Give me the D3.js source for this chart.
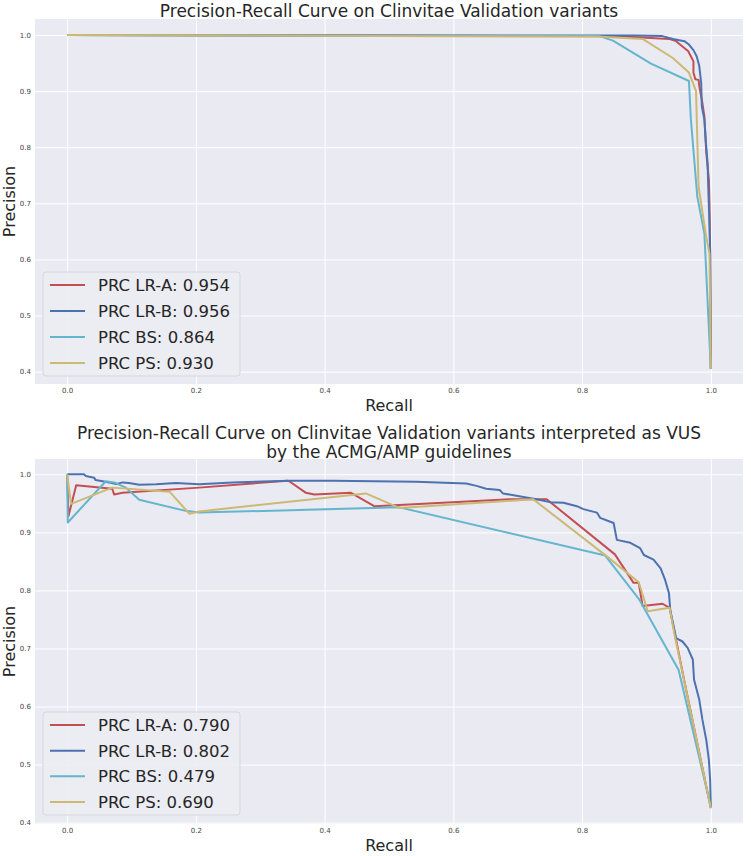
<!DOCTYPE html>
<html>
<head>
<meta charset="utf-8">
<script src="https://cdn.jsdelivr.net/npm/d3@7"></script>
<style>
  html, body { margin: 0; padding: 0; background: #ffffff; }
  svg { display: block; font-family: "DejaVu Sans", sans-serif; }
</style>
</head>
<body>
<svg id="chart" width="751" height="856"></svg>
<script>
// ---------------- DATA ----------------
const seriesNames = ["PRC LR-A", "PRC LR-B", "PRC BS", "PRC PS"];
const topScores = ["0.954", "0.956", "0.864", "0.930"];
const bottomScores = ["0.790", "0.802", "0.479", "0.690"];
const xTicks = [0.0, 0.2, 0.4, 0.6, 0.8, 1.0];
const yTicks = [0.4, 0.5, 0.6, 0.7, 0.8, 0.9, 1.0];
const topTitle = ["Precision-Recall Curve on Clinvitae Validation variants"];
const bottomTitle = ["Precision-Recall Curve on Clinvitae Validation variants interpreted as VUS", "by the ACMG/AMP guidelines"];

// Top panel: [recall, precision]
const topLRA = [[0,1.0],[0.85,0.998],[0.935,0.993],[0.946,0.989],[0.965,0.971],[0.973,0.953],[0.973,0.933],[0.976,0.921],[0.981,0.920],[0.982,0.909],[0.986,0.885],[0.990,0.855],[0.993,0.79],[0.997,0.742],[0.998,0.694],[0.999,0.61],[1.0,0.405]];
const topLRB = [[0,1.0],[0.88,0.999],[0.925,0.998],[0.941,0.993],[0.959,0.989],[0.966,0.983],[0.973,0.973],[0.978,0.962],[0.982,0.945],[0.985,0.915],[0.986,0.873],[0.990,0.849],[0.992,0.813],[0.995,0.771],[0.996,0.73],[0.998,0.658],[0.999,0.61],[1.0,0.405]];
const topBS = [[0,1.0],[0.827,0.998],[0.848,0.990],[0.907,0.949],[0.966,0.918],[0.969,0.85],[0.979,0.712],[0.990,0.646],[1.0,0.405]];
const topPS = [[0,1.0],[0.83,0.997],[0.894,0.993],[0.941,0.959],[0.966,0.933],[0.977,0.90],[0.981,0.73],[0.992,0.646],[0.998,0.61],[1.0,0.405]];

// Bottom panel: [recall, precision]
const botLRA = [[0,1.0],[0.002,0.928],[0.014,0.981],[0.070,0.975],[0.073,0.965],[0.086,0.968],[0.205,0.977],[0.342,0.989],[0.345,0.988],[0.371,0.968],[0.384,0.965],[0.441,0.968],[0.477,0.945],[0.516,0.947],[0.688,0.957],[0.745,0.957],[0.851,0.862],[0.880,0.813],[0.888,0.813],[0.894,0.773],[0.925,0.777],[0.936,0.770],[0.946,0.715],[0.959,0.643],[1.0,0.425]];
const botLRB = [[0,1.0],[0.026,1.0],[0.029,0.997],[0.042,0.994],[0.044,0.99],[0.055,0.988],[0.065,0.986],[0.076,0.983],[0.086,0.986],[0.096,0.985],[0.112,0.982],[0.138,0.983],[0.169,0.985],[0.205,0.983],[0.257,0.986],[0.345,0.989],[0.412,0.989],[0.542,0.987],[0.620,0.984],[0.636,0.980],[0.651,0.975],[0.672,0.973],[0.677,0.967],[0.709,0.961],[0.729,0.957],[0.750,0.952],[0.771,0.951],[0.792,0.945],[0.802,0.940],[0.823,0.934],[0.828,0.925],[0.849,0.916],[0.854,0.887],[0.875,0.882],[0.890,0.873],[0.896,0.861],[0.911,0.853],[0.922,0.838],[0.929,0.818],[0.935,0.795],[0.937,0.766],[0.946,0.718],[0.956,0.712],[0.964,0.701],[0.972,0.681],[0.974,0.646],[0.982,0.612],[0.987,0.577],[0.993,0.542],[0.997,0.508],[0.999,0.473],[1.0,0.427]];
const botBS = [[0,1.0],[0.001,0.917],[0.060,0.988],[0.073,0.986],[0.091,0.977],[0.112,0.956],[0.184,0.937],[0.205,0.934],[0.516,0.943],[0.836,0.860],[0.889,0.784],[0.950,0.663],[1.0,0.427]];
const botPS = [[0,1.0],[0.006,0.949],[0.070,0.977],[0.159,0.970],[0.190,0.932],[0.205,0.936],[0.464,0.967],[0.516,0.942],[0.724,0.957],[0.838,0.859],[0.888,0.814],[0.902,0.764],[0.936,0.770],[0.944,0.722],[1.0,0.425]];

const colors = ["#C44E52", "#4C72B0", "#64B5CD", "#CCB974"];

// ---------------- DRAW ----------------
const svg = d3.select("#chart");
const textColor = "#262626";

const panels = [
  { series: [topLRA, topLRB, topBS, topPS], scores: topScores, title: topTitle,
    titleY: [17], top: 19, bottom: 384, ydom: [0.378, 1.0285], xlabY: 411,
    legendTop: 272, legendBottom: 376 },
  { series: [botLRA, botLRB, botBS, botPS], scores: bottomScores, title: bottomTitle,
    titleY: [439, 458], top: 459, bottom: 824, ydom: [0.3977, 1.0263], xlabY: 851,
    legendTop: 712, legendBottom: 815 }
];
const left = 35, right = 743;

panels.forEach(p => {
  const x = d3.scaleLinear().domain([-0.05, 1.05]).range([left, right]);
  const y = d3.scaleLinear().domain(p.ydom).range([p.bottom, p.top]);
  const g = svg.append("g");

  g.append("rect").attr("x", left).attr("y", p.top)
    .attr("width", right - left).attr("height", p.bottom - p.top)
    .attr("fill", "#EAEAF2");

  // grid + tick labels
  const xAxis = g.append("g").attr("transform", `translate(0,${p.bottom})`)
    .call(d3.axisBottom(x).tickValues(xTicks).tickFormat(d3.format(".1f"))
      .tickSize(-(p.bottom - p.top)).tickPadding(4));
  const yAxis = g.append("g").attr("transform", `translate(${left},0)`)
    .call(d3.axisLeft(y).tickValues(yTicks).tickFormat(d3.format(".1f"))
      .tickSize(-(right - left)).tickPadding(4));
  [xAxis, yAxis].forEach(a => {
    a.select(".domain").remove();
    a.selectAll(".tick line").attr("stroke", "#ffffff").attr("stroke-width", 1);
    a.selectAll(".tick text").attr("fill", "#444").style("font-size", "7px")
      .style("font-family", "DejaVu Sans, sans-serif");
  });

  // lines
  const line = d3.line().x(d => x(d[0])).y(d => y(d[1]));
  p.series.forEach((s, i) => {
    g.append("path").datum(s).attr("d", line)
      .attr("fill", "none").attr("stroke", colors[i])
      .attr("stroke-width", 2).attr("stroke-linejoin", "round");
  });

  // titles
  p.title.forEach((t, i) => {
    svg.append("text").attr("x", (left + right) / 2).attr("y", p.titleY[i])
      .attr("text-anchor", "middle").attr("fill", textColor)
      .style("font-size", "17px").text(t);
  });
  svg.append("text").attr("x", (left + right) / 2).attr("y", p.xlabY)
    .attr("text-anchor", "middle").attr("fill", textColor)
    .style("font-size", "16px").text("Recall");
  svg.append("text")
    .attr("transform", `translate(15,${(p.top + p.bottom) / 2}) rotate(-90)`)
    .attr("text-anchor", "middle").attr("fill", textColor)
    .style("font-size", "16px").text("Precision");

  // legend
  const lg = g.append("g");
  lg.append("rect").attr("x", 43).attr("y", p.legendTop)
    .attr("width", 197).attr("height", p.legendBottom - p.legendTop)
    .attr("rx", 3).attr("fill", "#ECECF3").attr("fill-opacity", 0.9)
    .attr("stroke", "#D6D6DE").attr("stroke-width", 1);
  const step = (p.legendBottom - p.legendTop - 26) / 3;
  seriesNames.forEach((n, i) => {
    const cy = p.legendTop + 13 + i * step;
    lg.append("line").attr("x1", 50).attr("x2", 85).attr("y1", cy).attr("y2", cy)
      .attr("stroke", colors[i]).attr("stroke-width", 2);
    lg.append("text").attr("x", 98).attr("y", cy).attr("dy", "0.36em")
      .attr("fill", textColor).style("font-size", "16.5px")
      .text(`${n}: ${p.scores[i]}`);
  });
});
</script>
</body>
</html>
